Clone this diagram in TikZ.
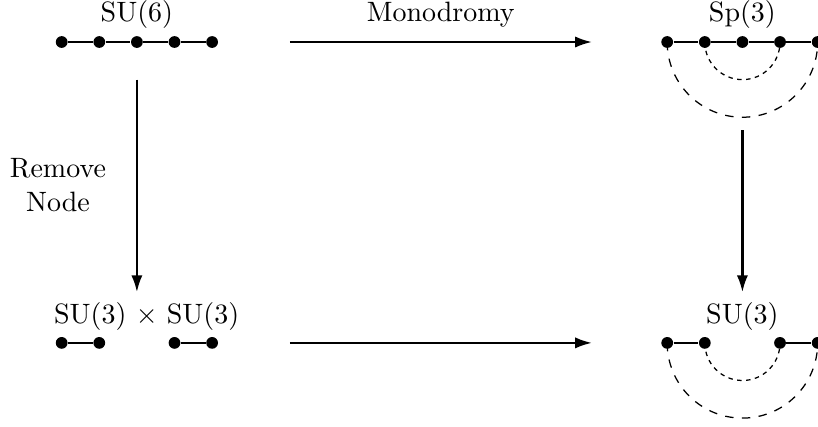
\documentclass[tikz,border=0pt]{standalone}
\usepackage{tikz}
\usetikzlibrary{arrows.meta,positioning,calc}

\begin{document}
\begin{tikzpicture}[x=0.472cm,y=0.472cm,
  vtx/.style={circle,fill=black,inner sep=0pt,minimum size=4.2pt},
  link/.style={line width=0.5pt},
  maparrow/.style={line width=0.8pt,-{Latex[length=6pt,width=4pt]}},
  bigarc/.style={dashed,line width=0.45pt},
  smallarc/.style={dash pattern=on 1.6pt off 1.6pt,line width=0.45pt}]
  \useasboundingbox (-1.64,1.117) rectangle (20.11,-10.21);
  % chains of nodes
  \foreach \i in {1,...,5}{
    \node[vtx] (a\i) at (\i-1,0) {};
    \node[vtx] (b\i) at (\i+15.1,0) {};
  }
  \foreach \i in {1,2,4,5}{
    \node[vtx] (c\i) at (\i-1,-8) {};
    \node[vtx] (d\i) at (\i+15.1,-8) {};
  }
  \foreach \i/\j in {1/2,2/3,3/4,4/5}{
    \draw[link] (a\i) -- (a\j);
    \draw[link] (b\i) -- (b\j);
  }
  \draw[link] (c1) -- (c2);
  \draw[link] (c4) -- (c5);
  \draw[link] (d1) -- (d2);
  \draw[link] (d4) -- (d5);
  % folding arcs
  \draw[bigarc] (b1.center) arc[start angle=180,end angle=360,radius=2];
  \draw[smallarc] (b2.center) arc[start angle=180,end angle=360,radius=1];
  \draw[bigarc] (d1.center) arc[start angle=180,end angle=360,radius=2];
  \draw[smallarc] (d2.center) arc[start angle=180,end angle=360,radius=1];
  % labels
  \node (su6) at (2,0.74) {SU(6)};
  \node (sp3) at (18.1,0.74) {Sp(3)};
  \node (mono) at (10.08,0.74) {Monodromy};
  \node (su33) at (2.26,-7.31) {SU(3) $\times$ SU(3)};
  \node (su3) at (18.1,-7.31) {SU(3)};
  \node[align=center] (rmnode) at (-0.1,-3.8) {Remove\\Node};
  % maps
  \coordinate (top0) at (6.07,0);
  \coordinate (top1) at (14.1,0);
  \coordinate (bot0) at (6.07,-8);
  \coordinate (bot1) at (14.1,-8);
  \coordinate (lft0) at (2,-1);
  \coordinate (lft1) at (2,-6.65);
  \coordinate (rgt0) at (18.1,-2.35);
  \coordinate (rgt1) at (18.1,-6.65);
  \draw[maparrow] (top0) -- (top1);
  \draw[maparrow] (bot0) -- (bot1);
  \draw[maparrow] (lft0) -- (lft1);
  \draw[maparrow] (rgt0) -- (rgt1);
\end{tikzpicture}
\end{document}
